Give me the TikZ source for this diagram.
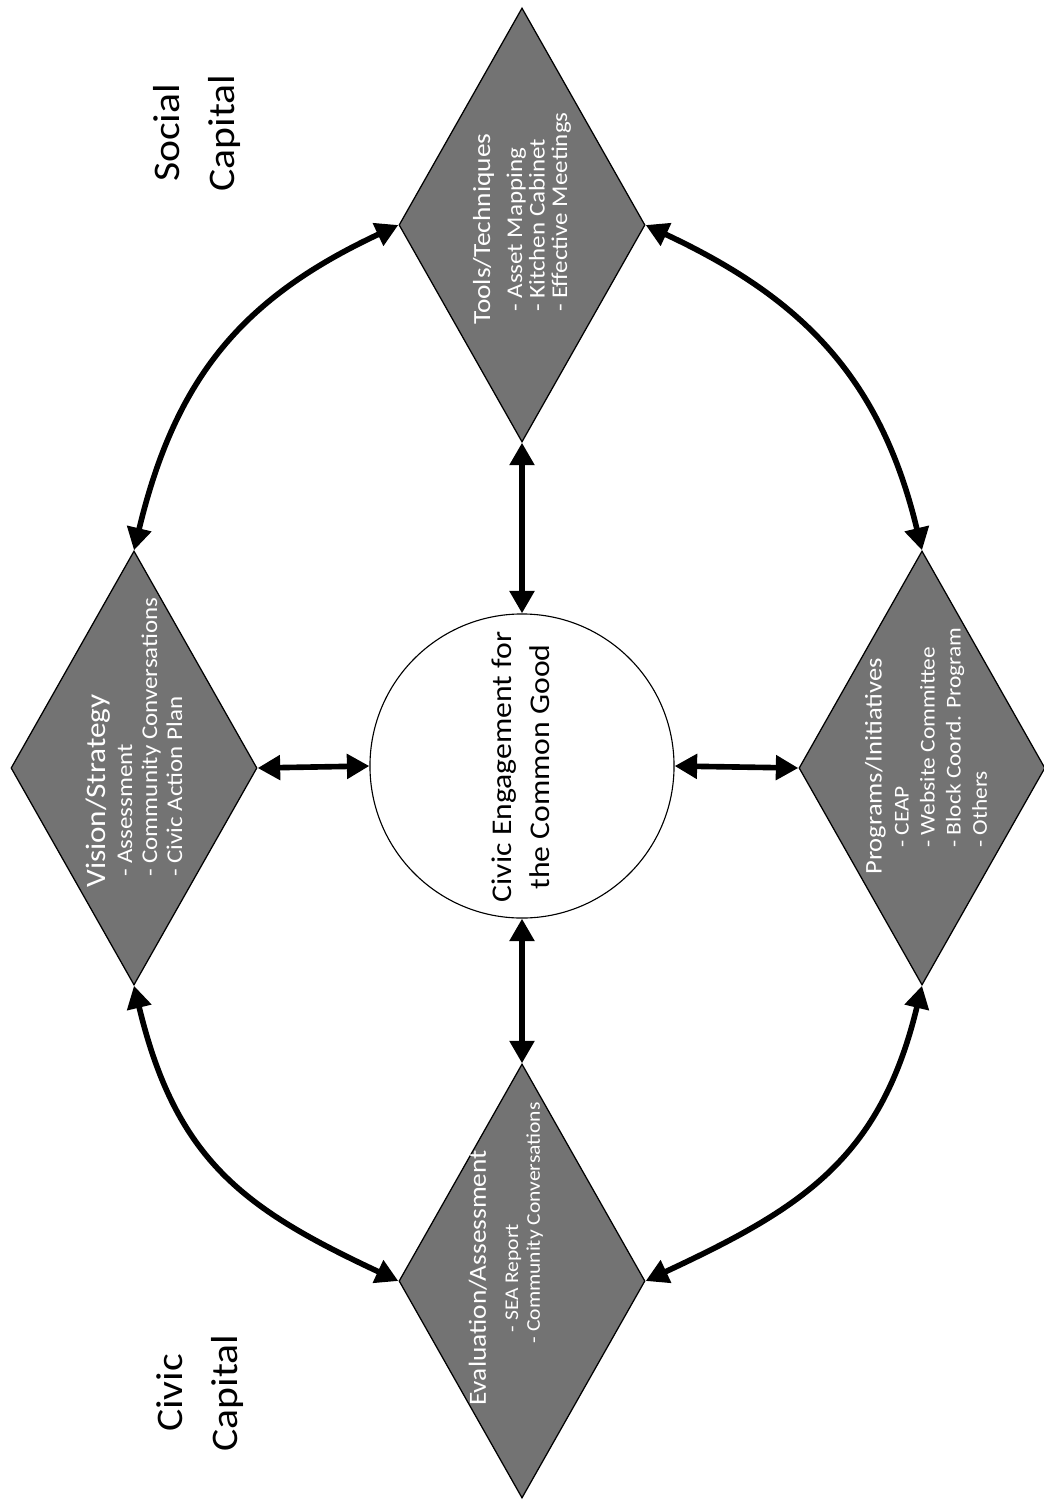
\documentclass[tikz,border=0pt]{standalone}
\usepackage{fontspec}
\setmainfont{Carlito}
\usetikzlibrary{shapes.geometric,arrows.meta}
\begin{document}
\begin{tikzpicture}[x=0.025cm,y=-0.025cm,
  dia/.style={shape=diamond, draw=black, line width=0.9pt, fill=black!55,
    minimum width=6.15cm, minimum height=10.85cm, inner sep=0pt},
  circ/.style={circle, draw=black, line width=0.8pt, fill=white,
    minimum size=7.6cm, inner sep=0pt},
  dtext/.style={rotate=90, xscale=1.11, anchor=west, align=left, inner sep=0pt, text=white},
  ctext/.style={rotate=90, xscale=1.11, align=center, inner sep=0pt, text=black},
  link/.style={line width=4pt, {Triangle[length=16pt,width=17pt]}-{Triangle[length=16pt,width=17pt]}}
]
\useasboundingbox (0,0) rectangle (1044,1500);

% diamonds and circle
\node[dia] (T) at (522,225) {};
\node[dia] (L) at (134,768) {};
\node[dia] (R) at (922,768) {};
\node[dia] (B) at (522,1281) {};
\node[circ] (C) at (522,766) {};

% texts in the diamonds
\node[dtext, font=\fontsize{16}{16}\selectfont] (Ttext) at (522,325)
  {{\fontsize{17.5}{16}\selectfont Tools/Techniques}\\[6.8pt]
   \hspace*{8.3pt}- Asset Mapping\\
   \hspace*{8.3pt}- Kitchen Cabinet\\
   \hspace*{8.3pt}- Effective Meetings};
\node[dtext, font=\fontsize{16}{17.8}\selectfont] (Ltext) at (134,888)
  {{\fontsize{20}{17.8}\selectfont Vision/Strategy}\\[1.4pt]
   \hspace*{7pt}- Assessment\\
   \hspace*{7pt}- Community Conversations\\
   \hspace*{7pt}- Civic Action Plan};
\node[dtext, font=\fontsize{15}{18.5}\selectfont] (Rtext) at (926,875)
  {{\fontsize{17}{18.5}\selectfont Programs/Initiatives}\\[0.7pt]
   \hspace*{17.3pt}- CEAP\\
   \hspace*{17.3pt}- Website Committee\\
   \hspace*{17.3pt}- Block Coord. Program\\
   \hspace*{17.3pt}- Others};
\node[dtext, font=\fontsize{13.8}{15.6}\selectfont] (Btext) at (506,1406)
  {{\fontsize{17.5}{15.6}\selectfont Evaluation/Assessment}\\[7.2pt]
   \hspace*{47pt}- SEA Report\\
   \hspace*{40pt}- Community Conversations};

% centre and side labels
\node[ctext, font=\fontsize{20.3}{27}\selectfont] (Ctext) at (521,767)
  {Civic Engagement for\\the Common Good};
\node[ctext, font=\fontsize{26.7}{39}\selectfont] (soc) at (197,133) {Social\\Capital};
\node[ctext, font=\fontsize{26.7}{39}\selectfont] (civ) at (200,1393) {Civic\\Capital};

% straight connectors
\draw[link] (T.south) -- (C.north);
\draw[link] (C.south) -- (B.north);
\draw[link] (L.east) -- (C.west);
\draw[link] (C.east) -- (R.west);

% curved connectors
\draw[link] (L.north) .. controls +(42,-175) and +(-154,72) .. (T.west);
\draw[link] (T.east) .. controls +(154,72) and +(-42,-175) .. (R.north);
\draw[link] (L.south) .. controls +(42,175) and +(-154,-72) .. (B.west);
\draw[link] (B.east) .. controls +(154,-72) and +(-42,175) .. (R.south);
\end{tikzpicture}
\end{document}
